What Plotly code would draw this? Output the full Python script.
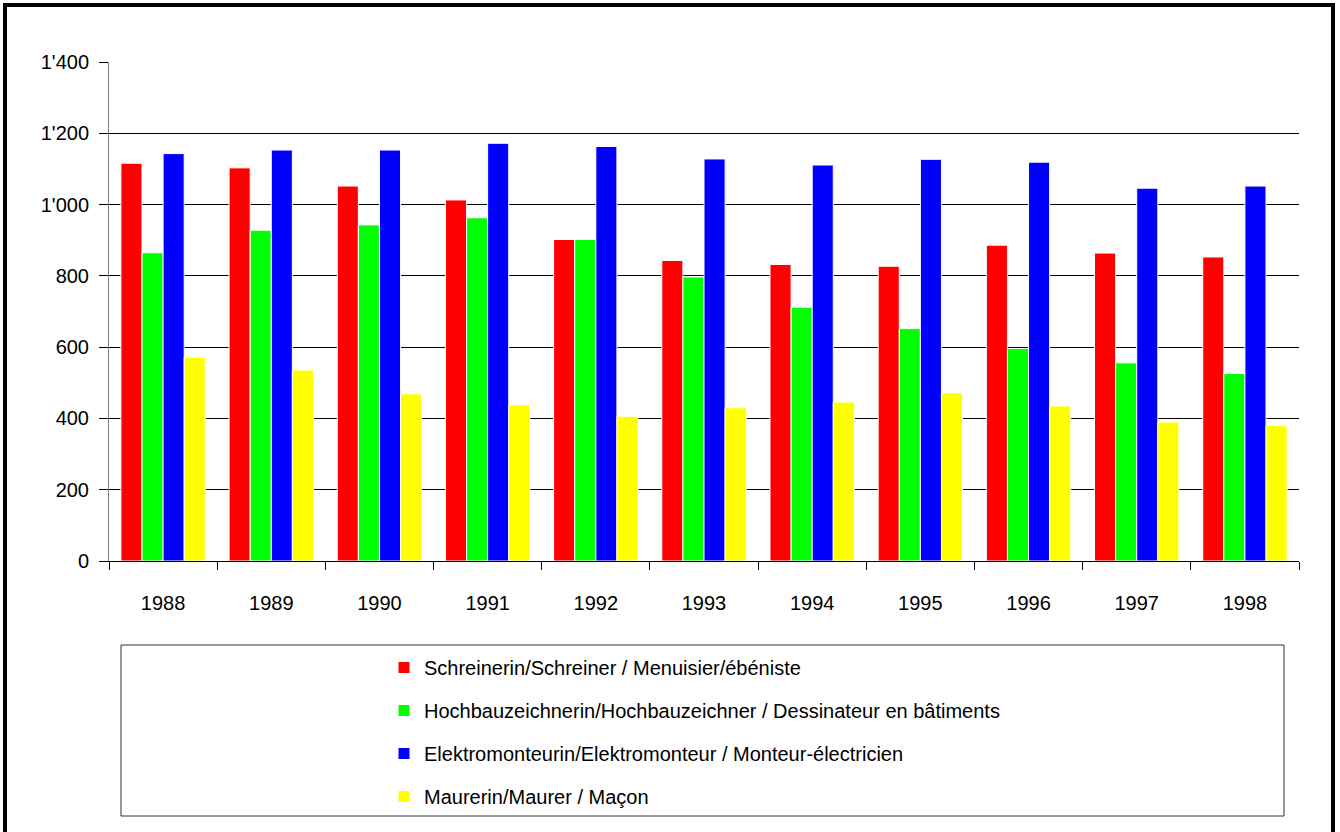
import plotly.graph_objects as go

# Lehrabschlüsse pro Jahr, vier Berufe
years = ["1988", "1989", "1990", "1991", "1992", "1993", "1994", "1995", "1996", "1997", "1998"]

schreiner = [1116, 1103, 1052, 1013, 902, 843, 832, 827, 886, 864, 853]
hochbauzeichner = [865, 928, 943, 963, 902, 797, 712, 652, 596, 556, 526]
elektromonteur = [1143, 1153, 1153, 1172, 1163, 1128, 1111, 1127, 1119, 1046, 1052]
maurer = [572, 536, 469, 438, 406, 430, 446, 472, 435, 390, 380]

series_names = [
    "Schreinerin/Schreiner / Menuisier/ébéniste",
    "Hochbauzeichnerin/Hochbauzeichner / Dessinateur en bâtiments",
    "Elektromonteurin/Elektromonteur / Monteur-électricien",
    "Maurerin/Maurer / Maçon",
]
series_values = [schreiner, hochbauzeichner, elektromonteur, maurer]
series_colors = ["#FF0000", "#00FF00", "#0000FF", "#FFFF00"]

FONT = "'Liberation Sans', Arial, Helvetica, sans-serif"

fig = go.Figure()
for i, (name, vals, col) in enumerate(zip(series_names, series_values, series_colors)):
    fig.add_trace(go.Bar(
        x=years, y=vals, name=name, legendgroup=f"g{i}",
        marker=dict(color=col, line=dict(color="white", width=1)),
    ))

# plot area on the page: left 109, right 1299, top 62, bottom 561
W, H = 1340, 832
L, T = 109, 62
R, B = W - 1299, H - 561
pw, ph = W - L - R, H - T - B


def px_x(p):
    # page pixel -> paper x
    return (p - L) / pw


def px_y(p):
    # page pixel -> paper y
    return (H - B - p) / ph


fig.update_layout(
    width=W, height=H,
    margin=dict(l=L, r=R, t=T, b=B),
    paper_bgcolor="white", plot_bgcolor="white",
    font=dict(family=FONT, color="black", size=20),
    separators=".'",
    barmode="group", bargap=0.22, bargroupgap=0,
    showlegend=True,
    legend=dict(
        x=px_x(384), xanchor="left", y=px_y(648), yanchor="top",
        font=dict(size=20), bgcolor="rgba(0,0,0,0)", borderwidth=0,
        traceorder="grouped", tracegroupgap=14,
    ),
    shapes=[
        # legend box
        dict(type="rect", xref="paper", yref="paper",
             x0=px_x(121), x1=px_x(1284), y0=px_y(816), y1=px_y(645),
             line=dict(color="#333333", width=1), layer="below"),
        # outer frame
        dict(type="rect", xref="paper", yref="paper",
             x0=px_x(5), x1=px_x(1333), y0=px_y(845), y1=px_y(5),
             line=dict(color="black", width=4), layer="above"),
    ],
)
fig.update_xaxes(
    type="category", showline=True, linecolor="black", linewidth=1,
    ticks="outside", tickson="boundaries", ticklen=8, tickcolor="black",
    ticklabelstandoff=24, tickfont=dict(size=20), showgrid=False,
)
fig.update_yaxes(
    range=[0, 1400], dtick=200, tickformat=",d",
    showline=True, linecolor="#808080", linewidth=1,
    ticks="outside", ticklen=9, tickcolor="black",
    showgrid=True, gridcolor="black", gridwidth=1, zeroline=False,
    ticklabelstandoff=6, tickfont=dict(size=20),
)

# drop the default 8px body margin so the figure fills the window
fig.write_html(
    "out.html",
    config={"displayModeBar": False},
    post_script="document.body.style.margin = '0';",
)
